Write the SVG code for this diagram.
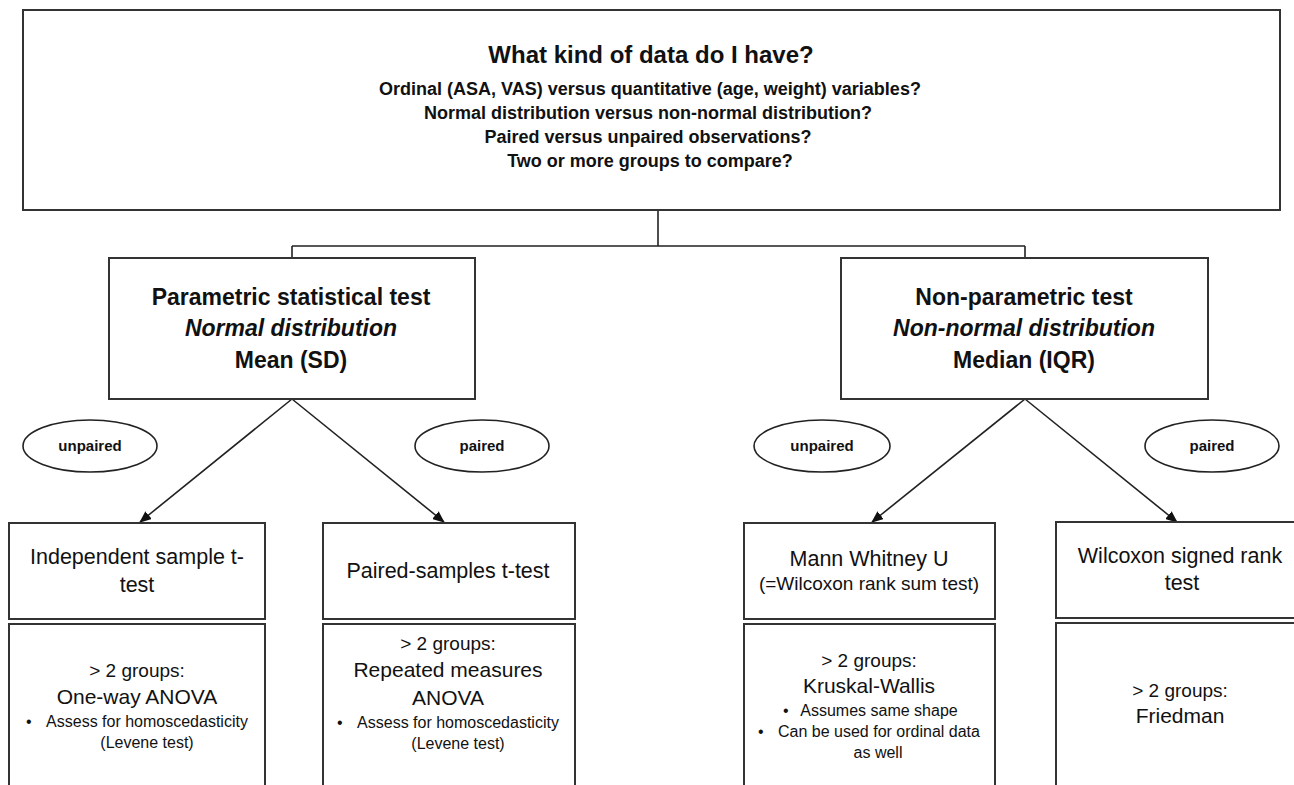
<svg xmlns="http://www.w3.org/2000/svg" width="1294" height="785" viewBox="0 0 1294 785">
<defs>
<style>
.box{fill:#fff;stroke:#333;stroke-width:2}
.ell{fill:#fff;stroke:#222;stroke-width:1.6}
.ln{fill:none;stroke:#222;stroke-width:1.6}
text{font-family:"Liberation Sans",Arial,sans-serif;fill:#111;text-anchor:middle}
.t{font-size:24px;font-weight:bold}
.q{font-size:18px;font-weight:bold}
.h{font-size:23px;font-weight:bold}
.hi{font-size:23px;font-weight:bold;font-style:italic}
.e{font-size:15px;font-weight:bold}
.n{font-size:21.5px}
.s{font-size:19px}
.m{font-size:21px}
.p{font-size:16px}
.bl{font-size:16px;text-anchor:start}
</style>
<marker id="ah" markerWidth="12" markerHeight="10" refX="11" refY="5" orient="auto" markerUnits="userSpaceOnUse">
<path d="M0,0 L12,5 L0,10 z" fill="#111"/>
</marker>
</defs>
<rect width="1294" height="785" fill="#fff"/>

<g id="connectors">
<path class="ln" d="M658,210 V246 M292,246 H1025 M292,246 V258 M1025,246 V258"/>
<line class="ln" x1="292" y1="399" x2="140" y2="522" marker-end="url(#ah)"/>
<line class="ln" x1="292" y1="399" x2="444" y2="522" marker-end="url(#ah)"/>
<line class="ln" x1="1025" y1="399" x2="872" y2="522" marker-end="url(#ah)"/>
<line class="ln" x1="1025" y1="399" x2="1177" y2="522" marker-end="url(#ah)"/>
</g>

<g id="top">
<rect class="box" x="23" y="10" width="1257" height="200"/>
<text class="t" x="651" y="63">What kind of data do I have?</text>
<text class="q" x="650" y="95">Ordinal (ASA, VAS) versus quantitative (age, weight) variables?</text>
<text class="q" x="648" y="119">Normal distribution versus non-normal distribution?</text>
<text class="q" x="648" y="143">Paired versus unpaired observations?</text>
<text class="q" x="650" y="167">Two or more groups to compare?</text>
</g>

<g id="parametric">
<rect class="box" x="109" y="258" width="366" height="141"/>
<text class="h" x="291" y="305">Parametric statistical test</text>
<text class="hi" x="291" y="336">Normal distribution</text>
<text class="h" x="291" y="368">Mean (SD)</text>
</g>

<g id="nonparametric">
<rect class="box" x="841" y="258" width="367" height="141"/>
<text class="h" x="1024" y="305">Non-parametric test</text>
<text class="hi" x="1024" y="336">Non-normal distribution</text>
<text class="h" x="1024" y="368">Median (IQR)</text>
</g>

<g id="label-unpaired-1">
<ellipse class="ell" cx="90" cy="446" rx="67" ry="26"/>
<text class="e" x="90" y="451">unpaired</text>
</g>
<g id="label-paired-1">
<ellipse class="ell" cx="482" cy="446" rx="67" ry="26"/>
<text class="e" x="482" y="451">paired</text>
</g>
<g id="label-unpaired-2">
<ellipse class="ell" cx="822" cy="446" rx="68" ry="26"/>
<text class="e" x="822" y="451">unpaired</text>
</g>
<g id="label-paired-2">
<ellipse class="ell" cx="1212" cy="446" rx="67" ry="26"/>
<text class="e" x="1212" y="451">paired</text>
</g>

<g id="independent">
<rect class="box" x="9" y="523" width="256" height="96"/>
<text class="n" x="137" y="564">Independent sample t-</text>
<text class="n" x="137" y="592">test</text>
</g>
<g id="anova">
<rect class="box" x="9" y="624" width="256" height="180"/>
<text class="s" x="137" y="677">&gt; 2 groups:</text>
<text class="m" x="137" y="704">One-way ANOVA</text>
<text class="bl" x="26" y="727">•</text>
<text class="p" x="147" y="727">Assess for homoscedasticity</text>
<text class="p" x="147" y="748">(Levene test)</text>
</g>

<g id="paired-t">
<rect class="box" x="323" y="523" width="252" height="96"/>
<text class="n" x="448" y="578">Paired-samples t-test</text>
</g>
<g id="rm-anova">
<rect class="box" x="323" y="624" width="252" height="180"/>
<text class="s" x="448" y="650">&gt; 2 groups:</text>
<text class="m" x="448" y="677">Repeated measures</text>
<text class="m" x="448" y="705">ANOVA</text>
<text class="bl" x="337" y="728">•</text>
<text class="p" x="458" y="728">Assess for homoscedasticity</text>
<text class="p" x="458" y="749">(Levene test)</text>
</g>

<g id="mann-whitney">
<rect class="box" x="744" y="523" width="251" height="96"/>
<text class="n" x="869" y="566">Mann Whitney U</text>
<text class="s" x="869" y="590">(=Wilcoxon rank sum test)</text>
</g>
<g id="kruskal">
<rect class="box" x="744" y="624" width="251" height="180"/>
<text class="s" x="869" y="667">&gt; 2 groups:</text>
<text class="m" x="869" y="693">Kruskal-Wallis</text>
<text class="bl" x="783" y="716">•</text>
<text class="p" x="879" y="716">Assumes same shape</text>
<text class="bl" x="758" y="737">•</text>
<text class="p" x="879" y="737">Can be used for ordinal data</text>
<text class="p" x="878" y="758">as well</text>
</g>

<g id="wilcoxon">
<rect class="box" x="1056" y="522" width="260" height="96"/>
<text class="n" x="1180" y="563">Wilcoxon signed rank</text>
<text class="n" x="1182" y="590">test</text>
</g>
<g id="friedman">
<rect class="box" x="1056" y="623" width="260" height="180"/>
<text class="s" x="1180" y="697">&gt; 2 groups:</text>
<text class="m" x="1180" y="723">Friedman</text>
</g>
</svg>
